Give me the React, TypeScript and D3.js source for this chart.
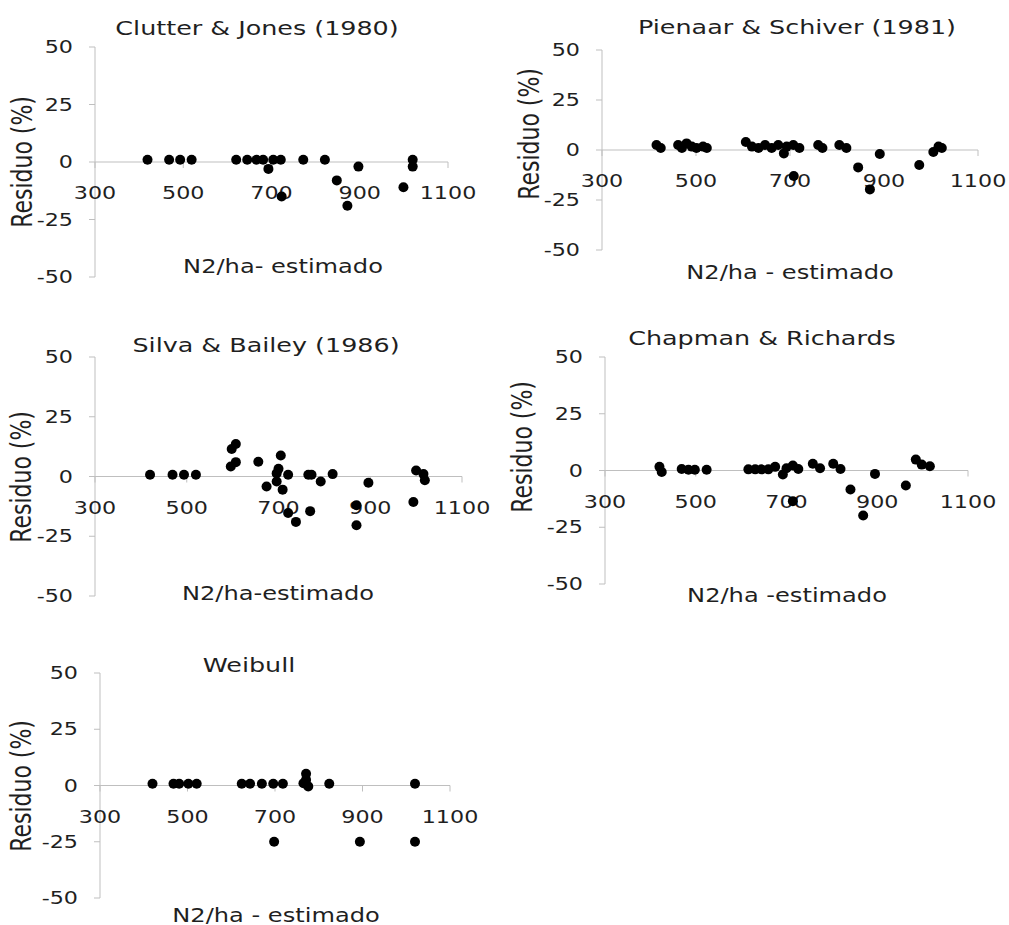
import * as d3 from 'd3'

// shared axis ticks
const xTicks = [300, 500, 700, 900, 1100]
const yTicks = [50, 25, 0, -25, -50]

// residuals
const clutterX = [419, 468, 493, 519, 620, 645, 666, 681, 693, 704, 721, 723, 772, 821, 848, 872, 897, 999, 1020, 1020]
const clutterY = [1, 1, 1, 1, 1, 1, 1, 1, -3, 1, 1, -15, 1, 1, -8, -19, -2, -11, 1, -2]

const pienaarX = [416, 425, 462, 470, 480, 491, 501, 515, 523, 606, 619, 633, 647, 661, 675, 687, 693, 707, 720, 708, 760, 769, 805, 820, 845, 870, 891, 975, 1005, 1016, 1023]
const pienaarY = [2.5, 1, 2.5, 1, 3.3, 1.7, 1, 1.7, 1, 4, 1.7, 1, 2.5, 1, 2.5, -1.7, 1.7, 2.5, 1, -13, 2.5, 1, 2.5, 1, -8.7, -19.7, -2, -7.5, -1, 1.7, 1]

const silvaX = [420, 469, 494, 520, 598, 607, 596, 607, 656, 674, 696, 705, 700, 696, 709, 721, 721, 738, 765, 772, 792, 769, 818, 896, 870, 870, 994, 1000, 1016, 1019]
const silvaY = [0.7, 0.7, 0.7, 0.7, 11.5, 13.6, 4.2, 6, 6.2, -4.2, -2.1, 8.8, 3.2, 1.3, -5.5, 0.7, -15.3, -19, 0.7, 0.7, -2.1, -14.5, 1, -2.6, -12, -20.4, -10.7, 2.5, 1, -1.6]

const chapmanX = [420, 425, 469, 484, 498, 524, 616, 631, 645, 660, 675, 692, 700, 714, 726, 714, 758, 774, 803, 819, 841, 895, 869, 963, 985, 998, 1016]
const chapmanY = [1.6, -0.7, 0.7, 0.3, 0.3, 0.3, 0.5, 0.5, 0.5, 0.5, 1.6, -1.8, 1, 2.2, 0.7, -13.5, 3, 1, 3, 0.7, -8.4, -1.5, -19.8, -6.6, 4.8, 2.6, 1.9]

const weibullX = [420, 468, 481, 502, 521, 624, 643, 670, 696, 718, 771, 771, 765, 776, 824, 1020, 698, 894, 1020]
const weibullY = [0.8, 0.8, 0.8, 0.8, 0.8, 0.8, 0.8, 0.8, 0.8, 0.8, 5.2, 2.5, 1, -0.4, 0.8, 0.8, -25, -25, -25]

const FONT = 'DejaVu Sans'
const SX = 1.27 // the picture is stretched sideways
const TXT = '#1f1f1f'
const AXIS = '#bfbfbf'

const panels = [
  { title: 'Clutter & Jones (1980)', xLabel: 'N2/ha- estimado', xs: clutterX, ys: clutterY,
    l: 95, r: 448, t: 47, b: 277, tx: 257, ty: 28, lx: 283, ly: 266, yx: 23, yy: 162 },
  { title: 'Pienaar & Schiver (1981)', xLabel: 'N2/ha - estimado', xs: pienaarX, ys: pienaarY,
    l: 602, r: 978, t: 50, b: 250, tx: 797, ty: 27, lx: 790, ly: 272, yx: 530, yy: 134 },
  { title: 'Silva & Bailey (1986)', xLabel: 'N2/ha-estimado', xs: silvaX, ys: silvaY,
    l: 95, r: 462, t: 357, b: 596, tx: 266, ty: 345, lx: 278, ly: 593, yx: 22, yy: 477 },
  { title: 'Chapman & Richards', xLabel: 'N2/ha -estimado', xs: chapmanX, ys: chapmanY,
    l: 605, r: 968, t: 357, b: 584, tx: 762, ty: 338, lx: 787, ly: 595, yx: 523, yy: 447 },
  { title: 'Weibull', xLabel: 'N2/ha - estimado', xs: weibullX, ys: weibullY,
    l: 100, r: 450, t: 673, b: 898, tx: 249, ty: 665, lx: 276, ly: 915, yx: 22, yy: 786 },
]

function Label({ x, y, size, anchor = 'middle', rotate = false, children }: any) {
  const tf = `translate(${x},${y}) scale(${SX},1)` + (rotate ? ' rotate(-90)' : '')
  return (
    <text transform={tf} fontSize={size} textAnchor={anchor} dominantBaseline="central"
      fontFamily={FONT} fill={TXT}>{children}</text>
  )
}

function Panel({ p }: any) {
  const x = d3.scaleLinear().domain([300, 1100]).range([p.l, p.r])
  const y = d3.scaleLinear().domain([-50, 50]).range([p.b, p.t])
  const y0 = y(0)
  return (
    <g>
      <line x1={p.l} x2={p.l} y1={p.t} y2={p.b} stroke={AXIS} strokeWidth={1} />
      {yTicks.map(v => (
        <g key={v}>
          <line x1={p.l - 6} x2={p.l} y1={y(v)} y2={y(v)} stroke={AXIS} />
          <Label x={p.l - 22} y={y(v)} size={17.5} anchor="end">{v}</Label>
        </g>
      ))}
      <line x1={p.l} x2={p.r} y1={y0} y2={y0} stroke={AXIS} />
      {xTicks.map(v => (
        <g key={v}>
          <line x1={x(v)} x2={x(v)} y1={y0} y2={y0 + 6} stroke={AXIS} />
          <Label x={x(v)} y={y0 + 31} size={17.5}>{v}</Label>
        </g>
      ))}
      {p.xs.map((v: number, i: number) => (
        <circle key={i} cx={x(v)} cy={y(p.ys[i])} r={5} fill="#000" />
      ))}
      <Label x={p.tx} y={p.ty} size={20}>{p.title}</Label>
      <Label x={p.lx} y={p.ly} size={19}>{p.xLabel}</Label>
      <Label x={p.yx} y={p.yy} size={22} rotate>Residuo (%)</Label>
    </g>
  )
}

export default function App() {
  return (
    <svg width={1009} height={925} style={{ position: 'absolute', left: 0, top: 0, background: '#fff' }}>
      {panels.map(p => <Panel key={p.title} p={p} />)}
    </svg>
  )
}
